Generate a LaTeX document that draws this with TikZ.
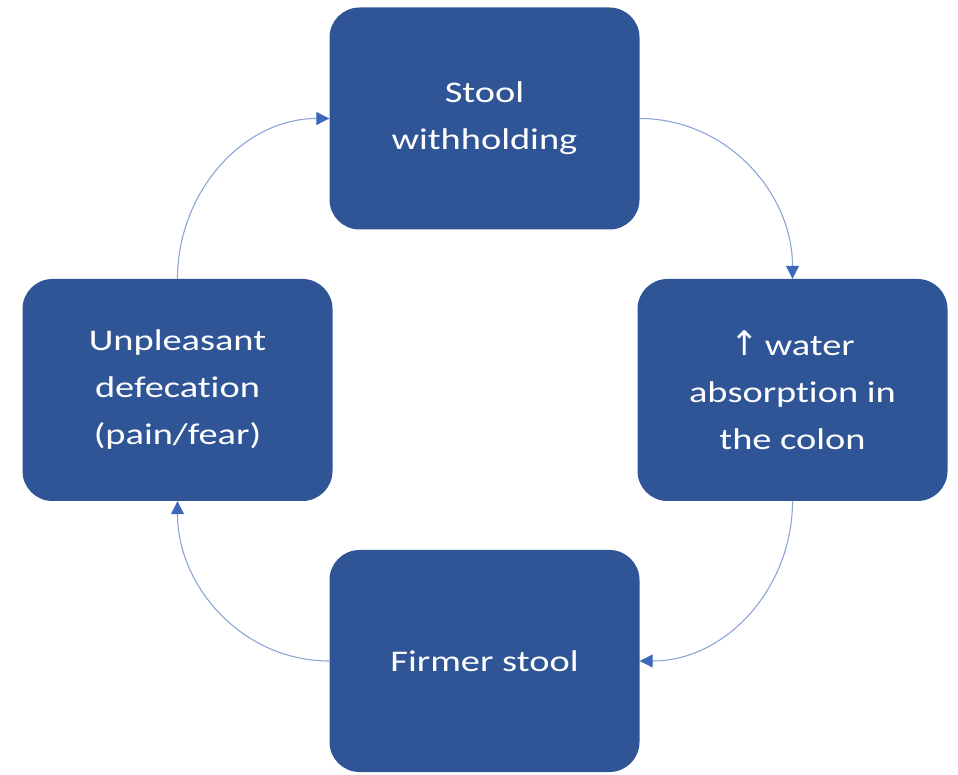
\documentclass[tikz,border=0pt]{standalone}
\usepackage{fontspec}
\setmainfont{Carlito}[FakeStretch=1.28,Ligatures=NoCommon]
\newfontfamily\symfont{DejaVu Sans}
\usetikzlibrary{arrows.meta}
\definecolor{boxblue}{RGB}{47,85,151}
\definecolor{linkblue}{RGB}{140,165,215}
\definecolor{tipblue}{RGB}{60,105,185}
\tikzset{
  stage/.style={fill=boxblue, rounded corners=30pt, minimum width=310pt,
    minimum height=222pt, text=white, align=center,
    font=\fontsize{30pt}{47pt}\selectfont, inner sep=0pt},
  link/.style={draw=linkblue, line width=1.1pt,
    -{Triangle[length=13pt,width=13pt,color=tipblue]}}
}
\begin{document}
\begin{tikzpicture}[x=1pt,y=1pt]
  \useasboundingbox (0,0) rectangle (958,774);
  \node[stage] (top)    at (484.5,655.5) {Stool\\withholding};
  \node[stage] (right)  at (792.5,384)   {{\symfont\fontsize{34pt}{47pt}\selectfont ↑}\hspace{6pt}water\\absorption in\\the colon};
  \node[stage] (bottom) at (484.5,113)   {Firmer stool};
  \node[stage] (left)   at (177.5,384)   {Unpleasant\\defecation\\(pain/fear)};
  \draw[link] (top.east)    to[out=0,in=90]    (right.north);
  \draw[link] (right.south) to[out=-90,in=0]   (bottom.east);
  \draw[link] (bottom.west) to[out=180,in=-90] (left.south);
  \draw[link] (left.north)  to[out=90,in=180]  (top.west);
\end{tikzpicture}
\end{document}
